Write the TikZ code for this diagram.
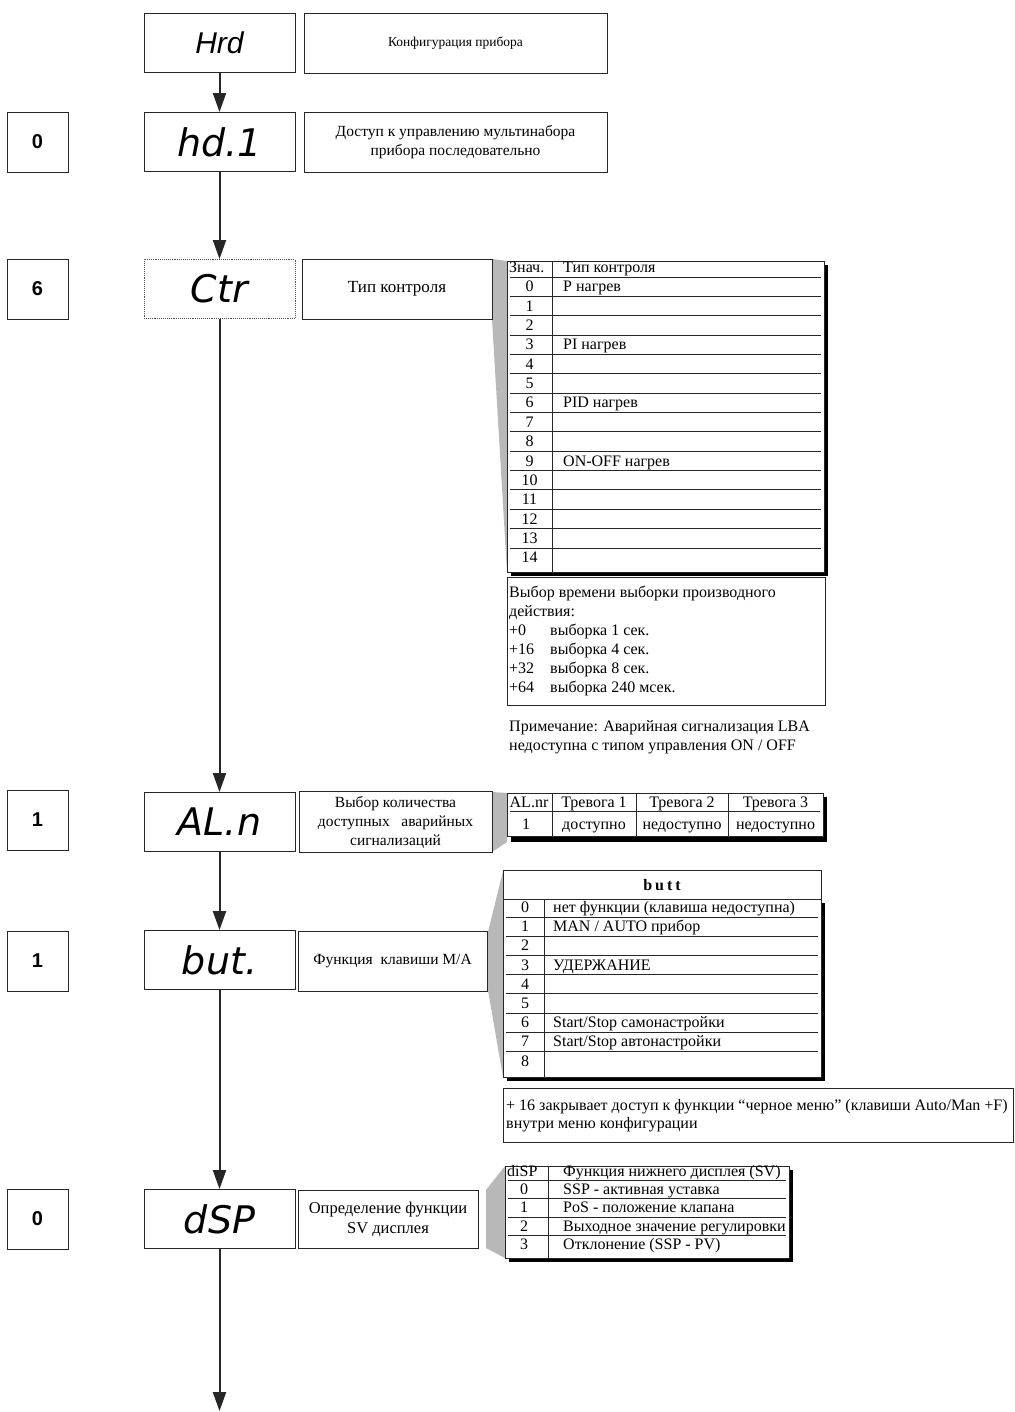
\documentclass[tikz,border=0pt]{standalone}
\usepackage{fontspec}
\setmainfont{Liberation Serif}
\newfontfamily\arialfont{Liberation Sans}
\newfontfamily\segfont{DejaVu Sans}
\usetikzlibrary{arrows.meta}
\definecolor{wedgegray}{gray}{0.72}
\definecolor{ink}{gray}{0.15}
\begin{document}
\begin{tikzpicture}[x=1pt,y=-1pt,
  every node/.style={inner sep=0pt},
  disp/.style={draw=ink, line width=0.9pt, minimum width=151pt, minimum height=59pt, font=\segfont\itshape\fontsize{38}{38}\selectfont},
  val/.style={draw=ink, line width=0.9pt, minimum width=61pt, minimum height=60pt, font=\arialfont\bfseries\fontsize{20}{20}\selectfont},
  desc/.style={draw=ink, line width=0.9pt, minimum height=60pt, align=center, font=\fontsize{15.5}{19}\selectfont},
  flow/.style={draw=ink, line width=2pt, -{Triangle[width=13pt,length=19pt]}},
  txt/.style={anchor=base west, font=\fontsize{16}{19}\selectfont},
  num/.style={anchor=base, font=\fontsize{16}{19}\selectfont},
  tline/.style={draw=ink, line width=0.8pt},
  tbl/.style={fill=white, draw=ink, line width=0.9pt},
  wedgefill/.style={fill=wedgegray}
]
\fill[white] (0,0) rectangle (1014,1412);
\useasboundingbox (0,0) rectangle (1014,1412);

% ---------- wedges ----------
\fill[wedgefill] (492,259) -- (507,261) -- (507,572) -- (492,319) -- cycle;
\fill[wedgefill] (492,792) -- (507,793) -- (507,842) -- (492,852) -- cycle;
\fill[wedgefill] (488,932) -- (503,871) -- (503,1077) -- (488,990) -- cycle;
\fill[wedgefill] (486,1190) -- (505,1166) -- (505,1258) -- (486,1248) -- cycle;

% ---------- main flow nodes ----------
\node[disp, font=\arialfont\itshape\fontsize{30}{30}\selectfont] (hrd) at (219.5,43) {Hrd};
\node[desc, minimum width=303pt, font=\fontsize{13.5}{17}\selectfont] (hrdd) at (455.5,43) {Конфигурация прибора};

\node[val] (v1) at (37.5,142) {0};
\node[disp] (hd) at (219.5,142) {hd.1};
\node[desc, minimum width=303pt] (hdd) at (455.5,142) {Доступ к управлению мультинабора\\прибора последовательно};

\node[val] (v2) at (37.5,289) {6};
\node[disp, draw=ink!80, densely dotted] (ctr) at (219.5,289) {Ctr};
\node[desc, minimum width=190pt, font=\fontsize{17}{20}\selectfont] (ctrd) at (397,289) {Тип контроля};

\node[val] (v3) at (37.5,820) {1};
\node[disp] (aln) at (219.5,822) {AL.n};
\node[desc, minimum width=193pt, minimum height=61pt] (alnd) at (395.5,822) {Выбор количества\\доступных\ \ \ аварийных\\сигнализаций};

\node[val] (v4) at (37.5,961) {1};
\node[disp] (but) at (219.5,960) {but.};
\node[desc, minimum width=189pt] (butd) at (392.5,961) {Функция\ \ клавиши M/A};

\node[val] (v5) at (37.5,1219) {0};
\node[disp] (dsp) at (219.5,1219) {dSP};
\node[desc, minimum width=180pt, minimum height=58pt, font=\fontsize{16.5}{20}\selectfont] (dspd) at (388,1219) {Определение функции\\SV дисплея};

\coordinate (end) at (219.5,1411);

\draw[flow] (hrd) -- (hd);
\draw[flow] (hd) -- (ctr);
\draw[flow] (ctr) -- (aln);
\draw[flow] (aln) -- (but);
\draw[flow] (but) -- (dsp);
\draw[flow] (dsp) -- (end);

% ---------- Ctr table ----------
\fill[black] (511,265) rectangle (828,576);
\draw[tbl] (507,261) rectangle (824,572);
\draw[tline] (552,261) -- (552,572);
\foreach \k in {0,...,14} \draw[tline] (510,{277+19.35*\k}) -- (821,{277+19.35*\k});
\node[txt] (ctrh1) at (509,273) {Знач.};
\node[txt] (ctrh2) at (563,273) {Тип контроля};
\foreach \i in {0,...,14} \node[num] (ctrn\i) at (529.5,{277+19.35*(\i+1)-4.5}) {\i};
\foreach \i/\t in {0/{P нагрев},3/{PI нагрев},6/{PID нагрев},9/{ON-OFF нагрев}}
  \node[txt] (ctrt\i) at (563,{277+19.35*(\i+1)-4.5}) {\t};

% Ctr note
\draw[tbl] (507,577) rectangle (825,705);
\node[txt] (cn1) at (509,597) {Выбор времени выборки производного};
\node[txt] (cn2) at (509,616) {действия:};
\foreach \j/\a/\b in {0/{+0}/{выборка 1 сек.},1/{+16}/{выборка 4 сек.},2/{+32}/{выборка 8 сек.},3/{+64}/{выборка 240 мсек.}}{
  \node[txt] (cna\j) at (509,{635+19*\j}) {\a};
  \node[txt] (cnb\j) at (550,{635+19*\j}) {\b};
}
\node[txt] (rem1) at (509,731) {Примечание: Аварийная сигнализация LBA};
\node[txt] (rem2) at (509,750) {недоступна с типом управления ON / OFF};

% ---------- AL.n table ----------
\fill[black] (511,797) rectangle (827,842);
\draw[tbl] (507,793) rectangle (823,836);
\foreach \xx in {552,636,728} \draw[tline] (\xx,793) -- (\xx,836);
\draw[tline] (510,811) -- (820,811);
\node[num] (ah1) at (529,807) {AL.nr};
\node[num] (ah2) at (594,807) {Тревога 1};
\node[num] (ah3) at (682,807) {Тревога 2};
\node[num] (ah4) at (775.5,807) {Тревога 3};
\node[num] (ar1) at (526,829) {1};
\node[num] (ar2) at (594,829) {доступно};
\node[num] (ar3) at (682,829) {недоступно};
\node[num] (ar4) at (775.5,829) {недоступно};

% ---------- butt table ----------
\fill[black] (507,903) rectangle (825,1081);
\draw[tbl] (503,899) rectangle (821,1077);
\draw[tbl] (503,870) rectangle (821,899);
\node[anchor=base, font=\bfseries\fontsize{16}{19}\selectfont] (butth) at (662,890) {b\hspace{3pt}u\hspace{3pt}t\hspace{3pt}t};
\draw[tline] (544,899) -- (544,1077);
\foreach \k in {0,...,7} \draw[tline] (506,{917+19.2*\k}) -- (818,{917+19.2*\k});
\foreach \i in {0,...,8} \node[num] (bn\i) at (525,{917+19.2*\i-4.5}) {\i};
\foreach \i/\t in {0/{нет функции (клавиша недоступна)},1/{MAN / AUTO прибор},3/{УДЕРЖАНИЕ},6/{Start/Stop самонастройки},7/{Start/Stop автонастройки}}
  \node[txt] (bt\i) at (553,{917+19.2*\i-4.5}) {\t};

% butt note
\draw[tbl] (503,1088) rectangle (1013,1142);
\node[txt] (bnote1) at (506,1110) {+ 16 закрывает доступ к функции “черное меню” (клавиши Auto/Man +F)};
\node[txt] (bnote2) at (506,1128) {внутри меню конфигурации};

% ---------- dSP table ----------
\fill[black] (509,1170) rectangle (793,1262);
\draw[tbl] (505,1166) rectangle (789,1258);
\draw[tline] (548,1166) -- (548,1258);
\foreach \k in {0,...,3} \draw[tline] (508,{1180+18.5*\k}) -- (786,{1180+18.5*\k});
\node[txt] (dh1) at (507,1176) {diSP};
\node[txt] (dh2) at (563,1176) {Функция нижнего дисплея (SV)};
\foreach \i/\t in {0/{SSP - активная уставка},1/{PoS - положение клапана},2/{Выходное значение регулировки},3/{Отклонение (SSP - PV)}}{
  \node[num] (dn\i) at (524,{1180+18.5*(\i+1)-4.5}) {\i};
  \node[txt] (dt\i) at (563,{1180+18.5*(\i+1)-4.5}) {\t};
}
\end{tikzpicture}
\end{document}
